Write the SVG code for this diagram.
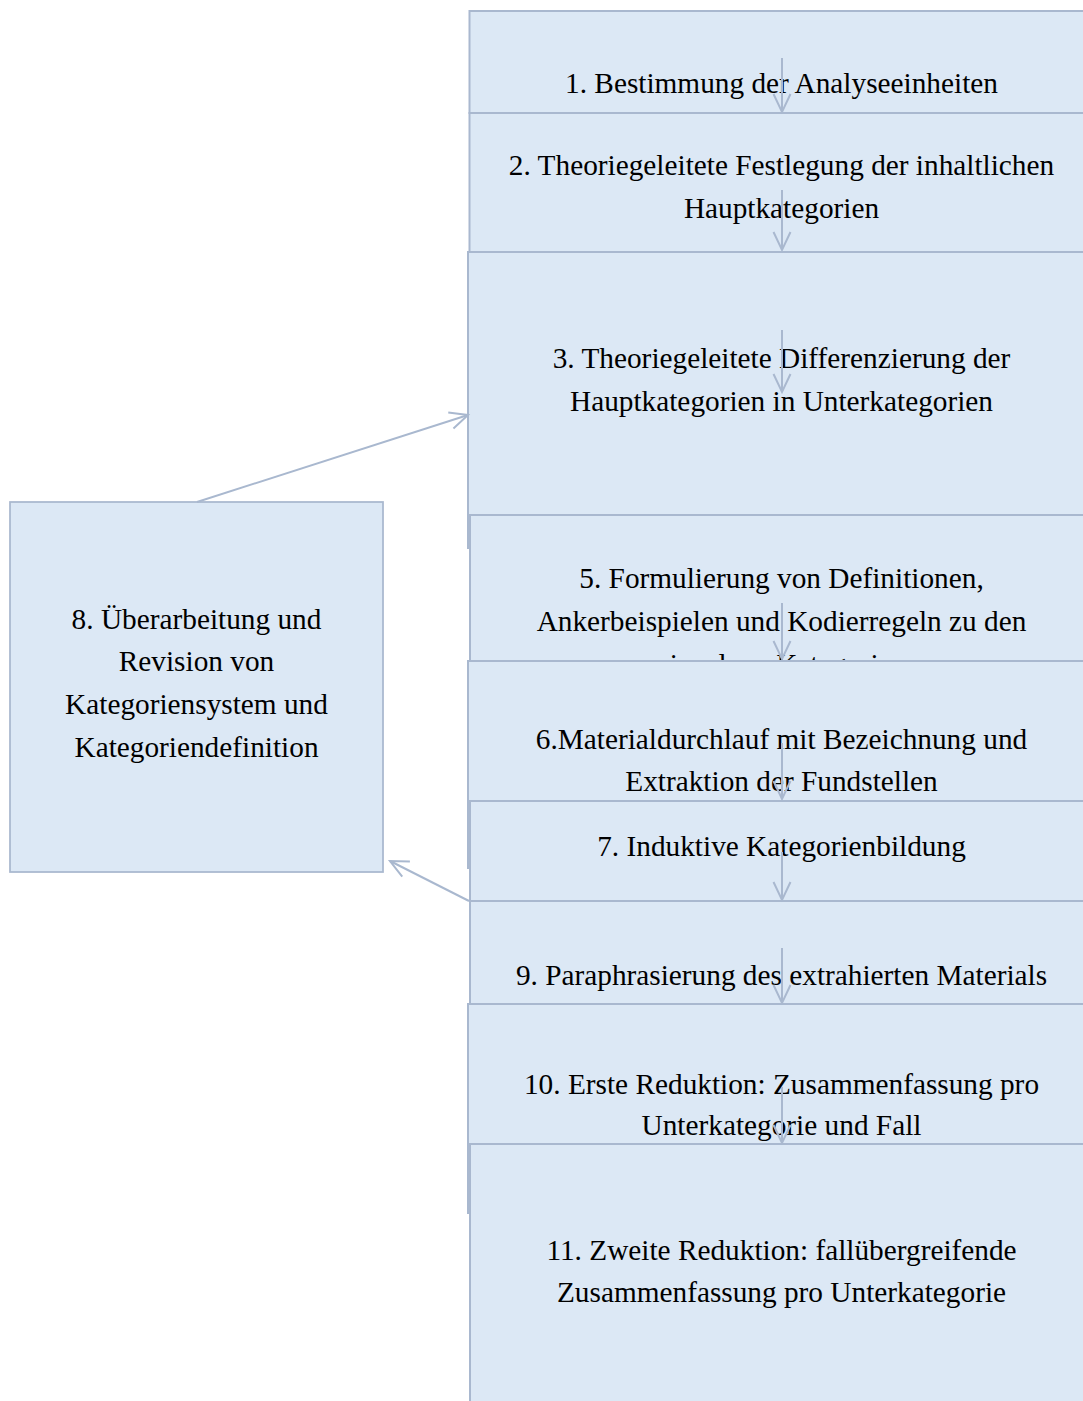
<svg xmlns="http://www.w3.org/2000/svg" width="1083" height="1401" viewBox="0 0 1083 1401">
<style>
.box{fill:#dce8f5;stroke:#a9b8cf;stroke-width:2}
.t{font-family:"Liberation Serif","Times New Roman",serif;font-size:29.3px;fill:#000;text-anchor:middle}
.c{fill:none;stroke:#a9b8cf;stroke-width:2}
</style>
<defs>
<marker id="ah" viewBox="-21 -11 24 22" refX="0" refY="0" markerWidth="24" markerHeight="22" markerUnits="userSpaceOnUse" orient="auto">
<path d="M-18,-8.5 L0,0 L-18,8.5" fill="none" stroke="#a9b8cf" stroke-width="2"/>
</marker>
</defs>
<rect width="1083" height="1401" fill="#ffffff"/>
<g id="n1"><rect class="box" x="469.5" y="11" width="640" height="102"/><text class="t" x="781.5" y="93">1. Bestimmung der Analyseeinheiten</text></g>
<g id="n2"><rect class="box" x="469.5" y="113" width="640" height="139"/><text class="t" x="781.5" y="175">2. Theoriegeleitete Festlegung der inhaltlichen</text><text class="t" x="781.5" y="218">Hauptkategorien</text></g>
<g id="n3"><rect class="box" x="468" y="252" width="640" height="296"/><text class="t" x="781.5" y="368">3. Theoriegeleitete Differenzierung der</text><text class="t" x="781.5" y="411">Hauptkategorien in Unterkategorien</text></g>
<g id="n5"><rect class="box" x="470" y="515" width="640" height="200"/><text class="t" x="781.5" y="588">5. Formulierung von Definitionen,</text><text class="t" x="781.5" y="631">Ankerbeispielen und Kodierregeln zu den</text><text class="t" x="781.5" y="674">einzelnen Kategorien</text></g>
<g id="n6"><rect class="box" x="468" y="661" width="640" height="207"/><text class="t" x="781.5" y="749">6.Materialdurchlauf mit Bezeichnung und</text><text class="t" x="781.5" y="791">Extraktion der Fundstellen</text></g>
<g id="n7"><rect class="box" x="470" y="801" width="640" height="100"/><text class="t" x="781.5" y="856">7. Induktive Kategorienbildung</text></g>
<g id="n9"><rect class="box" x="470" y="901" width="640" height="103"/><text class="t" x="781.5" y="985">9. Paraphrasierung des extrahierten Materials</text></g>
<g id="n10"><rect class="box" x="468" y="1004" width="640" height="209"/><text class="t" x="781.5" y="1094">10. Erste Reduktion: Zusammenfassung pro</text><text class="t" x="781.5" y="1135">Unterkategorie und Fall</text></g>
<g id="n11"><rect class="box" x="470" y="1144" width="640" height="280"/><text class="t" x="781.5" y="1260">11. Zweite Reduktion: fallübergreifende</text><text class="t" x="781.5" y="1302">Zusammenfassung pro Unterkategorie</text></g>
<g id="n8"><rect class="box" x="10" y="502" width="373" height="370" style="stroke-width:1.75"/><text class="t" x="196.5" y="629">8. Überarbeitung und</text><text class="t" x="196.5" y="671">Revision von</text><text class="t" x="196.5" y="714">Kategoriensystem und</text><text class="t" x="196.5" y="757">Kategoriendefinition</text></g>
<g id="connectors">
<line class="c" x1="782" y1="58" x2="782" y2="112" marker-end="url(#ah)"/>
<line class="c" x1="782" y1="190" x2="782" y2="250" marker-end="url(#ah)"/>
<line class="c" x1="782" y1="330" x2="782" y2="392" marker-end="url(#ah)"/>
<line class="c" x1="782" y1="603" x2="782" y2="659" marker-end="url(#ah)"/>
<line class="c" x1="782" y1="743" x2="782" y2="799" marker-end="url(#ah)"/>
<line class="c" x1="782" y1="852" x2="782" y2="900" marker-end="url(#ah)"/>
<line class="c" x1="782" y1="948" x2="782" y2="1003" marker-end="url(#ah)"/>
<line class="c" x1="782" y1="1087" x2="782" y2="1143" marker-end="url(#ah)"/>
<line class="c" x1="197" y1="502" x2="468" y2="415" marker-end="url(#ah)"/>
<line class="c" x1="469" y1="901" x2="390" y2="861" marker-end="url(#ah)"/>
</g>
</svg>
